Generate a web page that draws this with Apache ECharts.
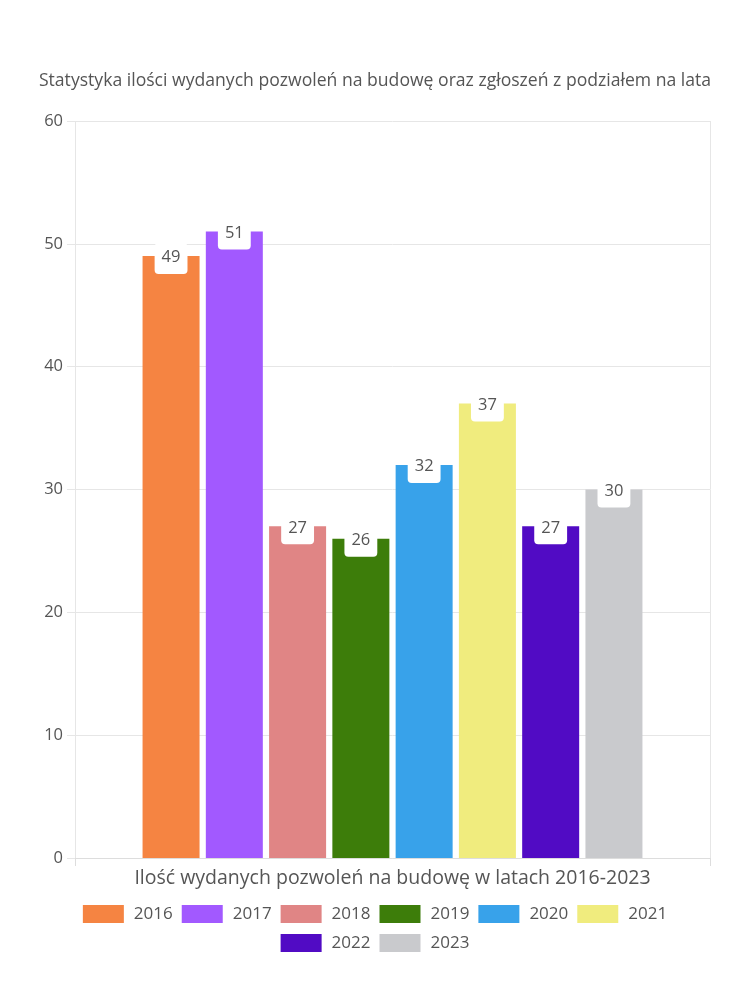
<!DOCTYPE html>
<html><head><meta charset="utf-8">
<script src="https://cdn.jsdelivr.net/npm/echarts@6/dist/echarts.min.js"></script>
<style>html,body{margin:0;padding:0;background:#fff}#c{width:750px;height:1000px}</style>
</head><body><div id="c"></div>
<script>
const categories = ['Ilość wydanych pozwoleń na budowę w latach 2016-2023'];
const years = ['2016','2017','2018','2019','2020','2021','2022','2023'];
const values = [49, 51, 27, 26, 32, 37, 27, 30];
const colors = ['#F58442','#A259FF','#E08585','#3D7D0A','#38A2EA','#F0EC7E','#510BC4','#C9CACD'];
const yTicks = [0,10,20,30,40,50,60];

const font = '"Open Sans", "Noto Sans", sans-serif';
const legendBase = {
  left: 'center', icon: 'rect',
  itemWidth: 41, itemHeight: 18, itemGap: 9,
  textStyle: {fontFamily: font, fontSize: 17, color: '#555', padding: [0, 0, 0, 5]}
};
const chart = echarts.init(document.getElementById('c'));
chart.setOption({
  animation: false,
  title: {
    text: 'Statystyka ilości wydanych pozwoleń na budowę oraz zgłoszeń z podziałem na lata',
    left: 'center', top: 67,
    textStyle: {fontFamily: font, fontSize: 17.6, fontWeight: 'normal', color: '#555'}
  },
  legend: [
    Object.assign({top: 900, data: years.slice(0, 6)}, legendBase),
    Object.assign({top: 929, data: years.slice(6)}, legendBase)
  ],
  grid: {left: 75, right: 40, top: 121, bottom: 142},
  xAxis: {
    type: 'category', data: categories,
    axisLine: {lineStyle: {color: '#ddd'}},
    axisTick: {show: true, length: 8, lineStyle: {color: '#ddd'}},
    splitLine: {show: true, lineStyle: {color: '#e6e6e6'}},
    axisLabel: {fontFamily: font, fontSize: 19.5, color: '#555', margin: 10}
  },
  yAxis: {
    type: 'value', min: yTicks[0], max: yTicks[yTicks.length-1], interval: 10,
    axisLine: {show: false},
    axisTick: {show: true, length: 8, lineStyle: {color: '#e6e6e6'}},
    splitLine: {lineStyle: {color: '#e6e6e6'}},
    axisLabel: {fontFamily: font, fontSize: 16.5, color: '#555', margin: 12}
  },
  series: years.map((y, i) => ({
    name: y, type: 'bar', data: [values[i]],
    barWidth: 57, barGap: '11%',
    itemStyle: {color: colors[i]},
    label: {
      show: true, position: 'insideTop', distance: 0, offset: [0, -13],
      backgroundColor: '#fff', borderRadius: 4, padding: [6, 7, 8, 7],
      fontFamily: font, fontSize: 16.5, color: '#555'
    }
  }))
});
</script></body></html>
